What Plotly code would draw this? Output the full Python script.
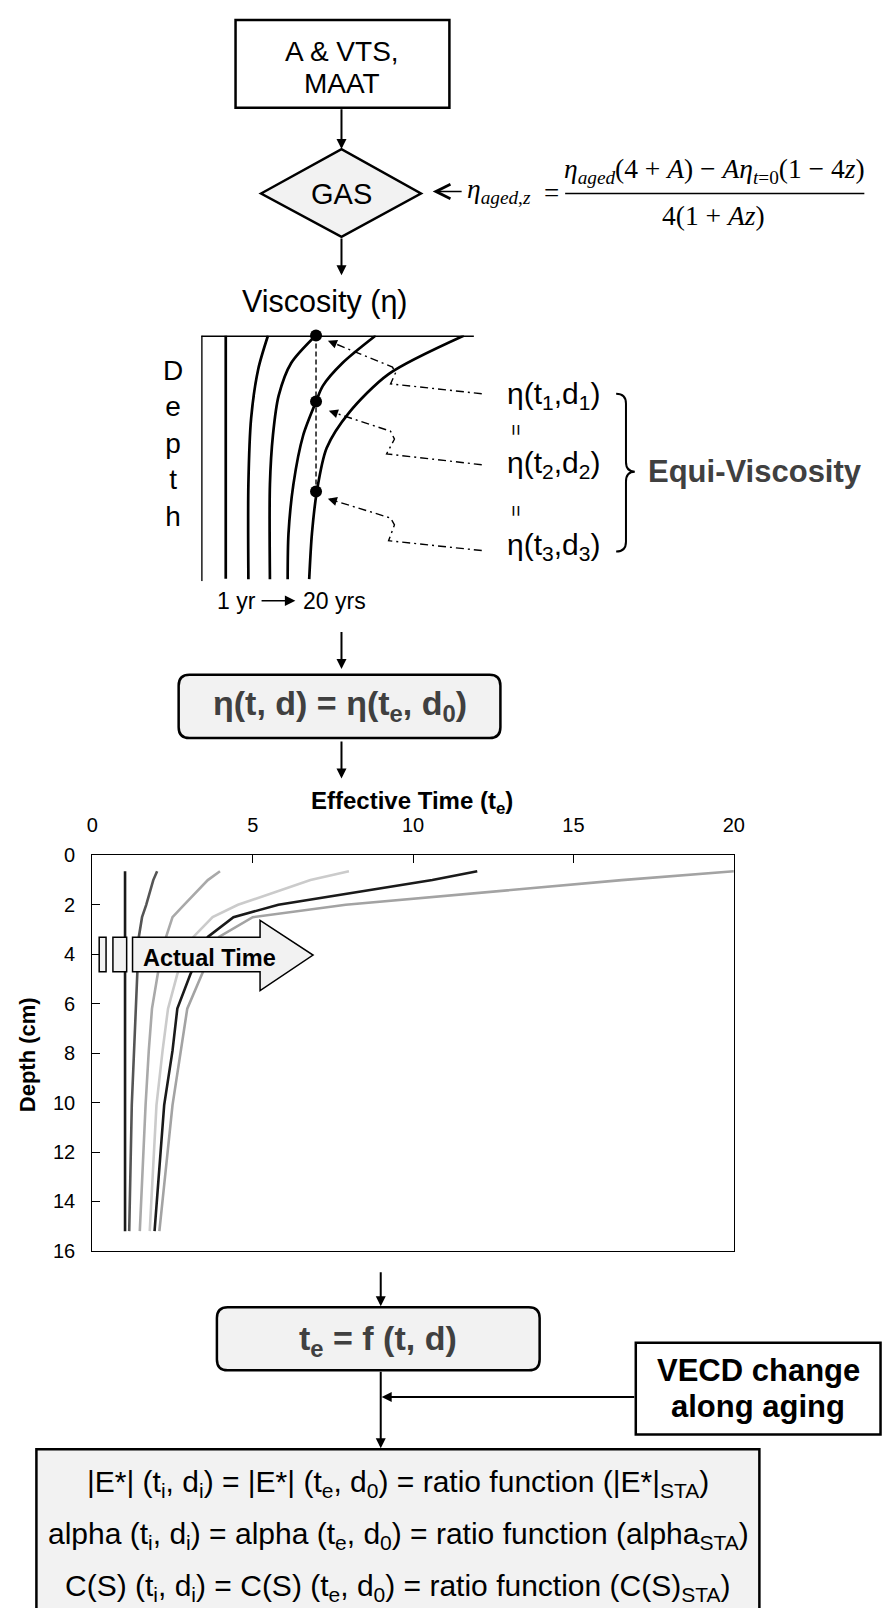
import plotly.graph_objects as go

W, H = 893, 1619
SANS = "Liberation Sans, Arial, sans-serif"
SERIF = "Liberation Serif, Times New Roman, serif"

# ---------------- chart data (effective time vs depth) ----------------
depth_cm = [0.64, 1.0, 2.0, 2.5, 3.3, 4.8, 6.2, 7.9, 10.1, 15.2]
te_curve1 = [1.02, 1.02, 1.02, 1.02, 1.02, 1.02, 1.02, 1.02, 1.02, 1.02]
te_curve2 = [2.02, 1.90, 1.68, 1.55, 1.45, 1.40, 1.35, 1.29, 1.23, 1.15]
te_curve3 = [3.98, 3.60, 2.86, 2.50, 2.30, 2.04, 1.86, 1.76, 1.66, 1.48]
te_curve4 = [8.00, 6.80, 4.54, 3.75, 3.15, 2.65, 2.36, 2.19, 2.00, 1.79]
te_curve5 = [12.0, 10.6, 5.80, 4.40, 3.60, 3.06, 2.65, 2.50, 2.24, 1.94]
te_curve6 = [20.0, 16.5, 7.90, 5.00, 3.95, 3.42, 2.96, 2.76, 2.50, 2.09]
curve_colors = ["#1a1a1a", "#555555", "#a9a9a9", "#cbcbcb", "#1a1a1a", "#a3a3a3"]
x_ticks = [0, 5, 10, 15, 20]
y_ticks = [0, 2, 4, 6, 8, 10, 12, 14, 16]

# ---------------- schematic viscosity profiles (1 yr -> 20 yrs) ----------------
prof1_visc = [0.0, 0.0]
prof1_depth = [0.0, 10.0]
prof2_visc = [0.9, 0.9]
prof2_depth = [0.0, 9.9]
prof3_visc = [2.45, 2.09, 1.83, 1.73, 1.73]
prof3_depth = [0.0, 1.37, 3.37, 6.06, 9.92]
prof4_visc = [4.2, 3.3, 2.84, 2.63, 2.52, 2.52]
prof4_depth = [0.0, 1.12, 2.45, 4.06, 6.06, 9.92]
prof5_visc = [6.4, 5.18, 4.46, 4.21, 3.74, 3.38, 3.2, 3.17]
prof5_depth = [0.0, 1.12, 2.05, 2.69, 4.06, 6.06, 8.07, 9.92]
prof6_visc = [9.64, 6.87, 5.43, 4.6, 4.24, 4.06, 3.96]
prof6_depth = [0.0, 1.57, 3.13, 4.58, 6.35, 8.07, 9.92]
surface_visc = [0.0, 10.0]
surface_depth = [0.0, 0.0]
equi_visc = [4.21, 4.21, 4.21]
equi_depth = [0.0, 2.69, 6.35]

fig = go.Figure()

# chart curves
for vals, col in zip([te_curve1, te_curve2, te_curve3, te_curve4, te_curve5, te_curve6], curve_colors):
    fig.add_trace(go.Scatter(x=vals, y=depth_cm, mode="lines", xaxis="x", yaxis="y",
                             line=dict(color=col, width=2.6), cliponaxis=False, showlegend=False))

# schematic curves
for xs, ys in [(prof1_visc, prof1_depth), (prof2_visc, prof2_depth), (prof3_visc, prof3_depth),
               (prof4_visc, prof4_depth), (prof5_visc, prof5_depth), (prof6_visc, prof6_depth),
               (surface_visc, surface_depth)]:
    fig.add_trace(go.Scatter(x=xs, y=ys, mode="lines", xaxis="x3", yaxis="y3",
                             line=dict(color="black", width=2.7, shape="spline", smoothing=0.8),
                             cliponaxis=False, showlegend=False))
fig.add_trace(go.Scatter(x=equi_visc, y=equi_depth, mode="lines", xaxis="x3", yaxis="y3",
                         line=dict(color="black", width=1.4, dash="5px,3px"),
                         cliponaxis=False, showlegend=False))
fig.add_trace(go.Scatter(x=equi_visc, y=equi_depth, mode="markers", xaxis="x3", yaxis="y3",
                         marker=dict(color="black", size=12), cliponaxis=False, showlegend=False))

shapes = []
annotations = []


def P(**kw):
    d = dict(xref="x2", yref="y2", layer="above")
    d.update(kw)
    return d


def rect(x0, y0, x1, y1, fill="white", lw=2.5):
    shapes.append(P(type="rect", x0=x0, y0=y0, x1=x1, y1=y1, fillcolor=fill,
                    line=dict(color="black", width=lw)))


def path(p, fill=None, lw=2.5, dash="solid", color="black"):
    d = P(type="path", path=p, line=dict(color=color, width=lw, dash=dash))
    if fill:
        d["fillcolor"] = fill
    shapes.append(d)


def rrect(x0, y0, x1, y1, r, fill):
    p = (f"M{x0+r},{y0} L{x1-r},{y0} Q{x1},{y0} {x1},{y0+r} L{x1},{y1-r} Q{x1},{y1} {x1-r},{y1} "
         f"L{x0+r},{y1} Q{x0},{y1} {x0},{y1-r} L{x0},{y0+r} Q{x0},{y0} {x0+r},{y0} Z")
    path(p, fill=fill, lw=2.5)


def arrow(x0, y0, x1, y1, width=2.0, size=1.0, head=2):
    annotations.append(dict(x=x1, y=y1, ax=x0, ay=y0, xref="x2", yref="y2", axref="x2", ayref="y2",
                            text="", showarrow=True, arrowhead=head, arrowsize=size, arrowwidth=width,
                            arrowcolor="black", standoff=0, startstandoff=0))


def text(x, y, t, size, color="black", family=SANS, xanchor="center", angle=0):
    annotations.append(dict(x=x, y=y, xref="x2", yref="y2", text=t, showarrow=False,
                            font=dict(family=family, size=size, color=color),
                            xanchor=xanchor, yanchor="middle", textangle=angle))


# ---- top box ----
rect(234, 9, 452, 98)
text(343, 41, "A &amp; VTS,", 28)
text(343, 74, "MAAT", 28)
arrow(342, 98, 342, 140)

# ---- GAS diamond ----
path("M260,185 L342,140 L423,185 L342,229 Z", fill="#f2f2f2")
text(342, 186, "GAS", 29)
arrow(342, 229, 342, 268)

# ---- formula ----
arrow(466, 183, 435, 183, width=1.3, size=2.2, head=5)
text(468, 182, "<i>η</i><sub><i>aged</i>,<i>z</i></sub>", 27.5, family=SERIF, xanchor="left")
text(556, 185, "=", 27, family=SERIF)
shapes.append(P(type="line", x0=570, x1=875, y0=185, y1=185, line=dict(color="black", width=1.5)))
text(722, 162, "<i>η</i><sub><i>aged</i></sub>(4 + <i>A</i>) − <i>Aη</i><sub><i>t</i>=0</sub>(1 − 4<i>z</i>)",
     27.5, family=SERIF)
text(721, 207, "4(1 + <i>Az</i>)", 27.5, family=SERIF)

# ---- schematic labels ----
text(325, 295, "Viscosity (η)", 30.5)
text(170, 438, "D<br>e<br>p<br>t<br>h", 28)
text(235, 598, "1 yr", 23)
arrow(259, 598, 295, 598, width=1.5, size=1.4)
text(335, 598, "20 yrs", 23)

text(509, 390, "η(t<sub>1</sub>,d<sub>1</sub>)", 30, xanchor="left")
text(509, 460, "η(t<sub>2</sub>,d<sub>2</sub>)", 30, xanchor="left")
text(509, 543, "η(t<sub>3</sub>,d<sub>3</sub>)", 30, xanchor="left")
text(520, 425, "=", 20, angle=90)
text(520, 507, "=", 20, angle=90)
path("M622,388 Q632,388 632,398 L632,457 Q632,467 641,467 Q632,467 632,477 L632,538 Q632,548 622,548",
     lw=2)
text(652, 467, "<b>Equi-Viscosity</b>", 31, color="#404040", xanchor="left")

# dash-dot connectors from labels to equal-viscosity points
connectors = [
    [(485, 388), (392, 378), (397, 367), (394, 361), (330, 335)],
    [(485, 460), (388, 449), (396, 434), (392, 426), (331, 406)],
    [(485, 547), (390, 537), (396, 521), (392, 514), (330, 495)],
]
for pts in connectors:
    p = "M" + " L".join(f"{x},{y}" for x, y in pts)
    path(p, lw=1.4, dash="8px,4px,2px,4px")
    (xa, ya), (xb, yb) = pts[-2], pts[-1]
    L = ((xa - xb) ** 2 + (ya - yb) ** 2) ** 0.5
    arrow(xb + (xa - xb) / L * 6, yb + (ya - yb) / L * 6, xb - (xa - xb) / L * 2, yb - (ya - yb) / L * 2,
          width=1.4, size=1.3)

# ---- eta box ----
arrow(342, 628, 342, 667)
rrect(176, 673, 504, 737, 11, "#f2f2f2")
text(340, 704, "<b>η(t, d) = η(t<sub>e</sub>, d<sub>0</sub>)</b>", 34, color="#404040")
arrow(342, 739, 342, 778)

# ---- chart titles and block arrow ----
text(414, 802, "<b>Effective Time (t<sub>e</sub>)</b>", 24)
text(22, 1058, "<b>Depth (cm)</b>", 22, angle=-90)
rect(95, 939, 102, 974, fill="#f2f2f2", lw=1.5)
rect(109, 939, 123, 974, fill="#f2f2f2", lw=1.5)
path("M129,939 L259,939 L259,922 L313,957 L259,993 L259,974 L129,974 Z", fill="#f2f2f2", lw=1.5)
text(207, 960, "<b>Actual Time</b>", 23.5)

# ---- te box ----
arrow(382, 1277, 382, 1313)
rrect(215, 1314, 544, 1378, 11, "#f2f2f2")
text(379, 1348, "<b>t<sub>e</sub> = f (t, d)</b>", 34, color="#404040")
arrow(382, 1378, 382, 1457)

# ---- VECD box ----
rect(642, 1350, 891.5, 1443)
text(767, 1378, "<b>VECD change</b>", 31)
text(767, 1415, "<b>along aging</b>", 31)
arrow(642, 1405, 383, 1405)

# ---- bottom box ----
rect(31, 1458, 768, 1640, fill="#f2f2f2")
text(400, 1493, "|E*| (t<sub>i</sub>, d<sub>i</sub>) = |E*| (t<sub>e</sub>, d<sub>0</sub>) = ratio function (|E*|<sub>STA</sub>)", 30)
text(400, 1545, "alpha (t<sub>i</sub>, d<sub>i</sub>) = alpha (t<sub>e</sub>, d<sub>0</sub>) = ratio function (alpha<sub>STA</sub>)", 30)
text(400, 1598, "C(S) (t<sub>i</sub>, d<sub>i</sub>) = C(S) (t<sub>e</sub>, d<sub>0</sub>) = ratio function (C(S)<sub>STA</sub>)", 30)

fig.update_layout(
    width=W, height=H, margin=dict(l=0, r=0, t=0, b=0),
    paper_bgcolor="white", plot_bgcolor="rgba(0,0,0,0)", showlegend=False,
    font=dict(family=SANS, color="black"),
    xaxis=dict(domain=[88 / W, 742 / W], range=[0, 20], side="top", anchor="y",
               tickmode="array", tickvals=x_ticks, ticks="inside", ticklen=8, tickcolor="black",
               showline=True, mirror=True, linecolor="black", linewidth=1.2,
               showgrid=False, zeroline=False, tickfont=dict(size=20, family=SANS),
               ticklabelstandoff=14),
    yaxis=dict(domain=[(H - 1257) / H, (H - 856) / H], range=[16, 0], anchor="x",
               tickmode="array", tickvals=y_ticks, ticks="inside", ticklen=8, tickcolor="black",
               showline=True, mirror=True, linecolor="black", linewidth=1.2,
               showgrid=False, zeroline=False, tickfont=dict(size=20, family=SANS),
               ticklabelstandoff=12),
    xaxis2=dict(domain=[0, 1], range=[0, W], visible=False, anchor="y2"),
    yaxis2=dict(domain=[0, 1], range=[H, 0], visible=False, anchor="x2"),
    xaxis3=dict(domain=[199 / W, 477 / W], range=[0, 10], visible=False, anchor="y3"),
    yaxis3=dict(domain=[(H - 578) / H, (H - 329) / H], range=[10, 0], visible=False, anchor="x3"),
    shapes=shapes, annotations=annotations,
)
fig.add_trace(go.Scatter(x=[0], y=[0], xaxis="x2", yaxis="y2", mode="markers",
                         marker=dict(opacity=0), showlegend=False, hoverinfo="skip"))

fig.write_html("out.html")
